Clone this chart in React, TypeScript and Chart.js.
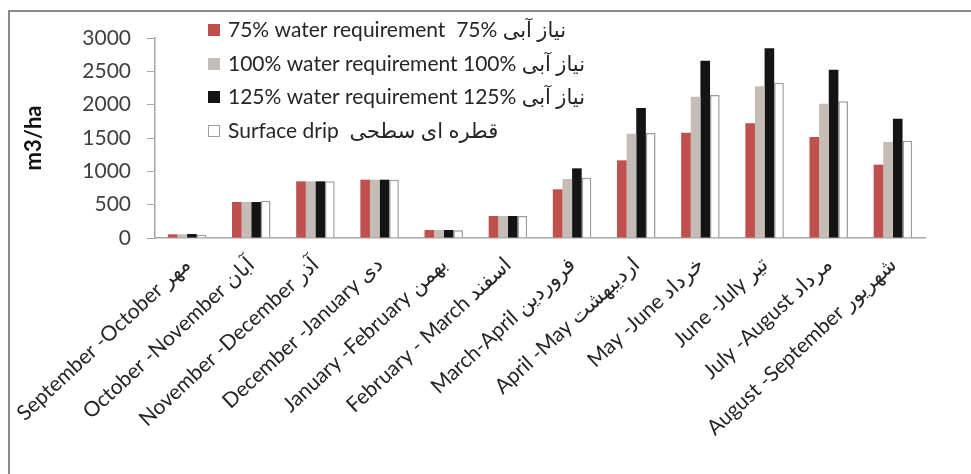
import React, { useEffect, useRef } from "react";
import { Chart, registerables } from "chart.js";

Chart.register(...registerables);

const categories = [
  "September -October مهر",
  "October -November آبان",
  "November -December آذر",
  "December -January دی",
  "January -February بهمن",
  "February - March اسفند",
  "March-April فروردین",
  "April -May اردیبهشت",
  "May -June خرداد",
  "June -July تیر",
  "July -August مرداد",
  "August -September شهریور",
];

const seriesLabels = [
  "75% water requirement  75% نیاز آبی",
  "100% water requirement 100% نیاز آبی",
  "125% water requirement 125% نیاز آبی",
  "Surface drip  قطره ای سطحی",
];

const water75 = [55, 540, 850, 875, 120, 330, 730, 1165, 1580, 1720, 1515, 1100];
const water100 = [55, 540, 850, 875, 120, 330, 885, 1565, 2120, 2275, 2015, 1440];
const water125 = [60, 540, 850, 875, 120, 330, 1045, 1950, 2660, 2845, 2525, 1790];
const surfaceDrip = [50, 560, 850, 875, 115, 330, 905, 1575, 2145, 2330, 2050, 1460];

const yTicks = [0, 500, 1000, 1500, 2000, 2500, 3000];

const FONT = "Lato, 'DejaVu Sans', sans-serif";

const frameAndLegend = {
  id: "frameAndLegend",
  beforeDraw(chart: any) {
    const ctx = chart.ctx;
    ctx.save();
    ctx.strokeStyle = "#8f8884";
    ctx.lineWidth = 2;
    ctx.beginPath();
    ctx.moveTo(9, chart.height);
    ctx.lineTo(9, 11);
    ctx.lineTo(chart.width, 11);
    ctx.stroke();
    ctx.restore();
  },
  afterDraw(chart: any) {
    const ctx = chart.ctx;
    ctx.save();
    const x0 = 208;
    const rows = [30, 64, 97, 131];
    chart.data.datasets.forEach((ds: any, i: number) => {
      const y = rows[i];
      ctx.fillStyle = ds.backgroundColor;
      ctx.fillRect(x0, y - 6, 12, 12);
      if (ds.borderWidth) {
        ctx.strokeStyle = ds.borderColor;
        ctx.lineWidth = 1;
        ctx.strokeRect(x0 + 0.5, y - 5.5, 11, 11);
      }
      ctx.fillStyle = "#262626";
      ctx.font = "21px " + FONT;
      ctx.textBaseline = "middle";
      ctx.textAlign = "left";
      ctx.direction = "ltr";
      ctx.fillText(ds.label, x0 + 20, y);
    });
    ctx.restore();
  },
};

export default function App() {
  const ref = useRef<HTMLCanvasElement | null>(null);

  useEffect(() => {
    if (!ref.current) return;
    const chart = new Chart(ref.current, {
      type: "bar",
      data: {
        labels: categories,
        datasets: [
          { label: seriesLabels[0], data: water75, backgroundColor: "#c0504d", borderWidth: 0 },
          { label: seriesLabels[1], data: water100, backgroundColor: "#c5bcb6", borderWidth: 0 },
          { label: seriesLabels[2], data: water125, backgroundColor: "#141414", borderWidth: 0 },
          { label: seriesLabels[3], data: surfaceDrip, backgroundColor: "#ffffff", borderColor: "#a39c96", borderWidth: 1.5 },
        ],
      },
      plugins: [frameAndLegend],
      options: {
        animation: false,
        responsive: false,
        maintainAspectRatio: false,
        layout: { padding: { top: 38, right: 46, left: 0, bottom: 0 } },
        datasets: { bar: { categoryPercentage: 0.6, barPercentage: 1.0 } },
        plugins: { legend: { display: false }, tooltip: { enabled: false } },
        scales: {
          x: {
            grid: { display: false, drawTicks: false },
            border: { display: true, color: "#a6a6a6", width: 1.5 },
            ticks: {
              minRotation: 43,
              maxRotation: 43,
              autoSkip: false,
              padding: 14,
              color: "#262626",
              font: { family: FONT, size: 21 },
            },
            afterFit: (s: any) => {
              s.height = 474 - 238;
            },
          },
          y: {
            min: 0,
            max: 3000,
            afterBuildTicks: (s: any) => {
              s.ticks = yTicks.map((v) => ({ value: v }));
            },
            grid: { display: true, drawOnChartArea: false, drawTicks: true, tickLength: 8, color: "#a6a6a6" },
            border: { display: true, color: "#a6a6a6", width: 1.5 },
            ticks: {
              padding: 16,
              color: "#404040",
              font: { family: FONT, size: 21 },
              callback: (v: any) => String(v),
            },
            title: {
              display: true,
              text: "m3/ha",
              color: "#111111",
              font: { family: FONT, size: 22, weight: "bold" },
              padding: { top: 18, bottom: 0 },
            },
            afterFit: (s: any) => {
              s.width = 152;
            },
          },
        },
      },
    });
    return () => chart.destroy();
  }, []);

  return (
    <div style={{ position: "absolute", left: 0, top: 0, width: 971, height: 474, background: "#ffffff" }}>
      <canvas ref={ref} width={971} height={474} style={{ display: "block", width: 971, height: 474 }} />
    </div>
  );
}
